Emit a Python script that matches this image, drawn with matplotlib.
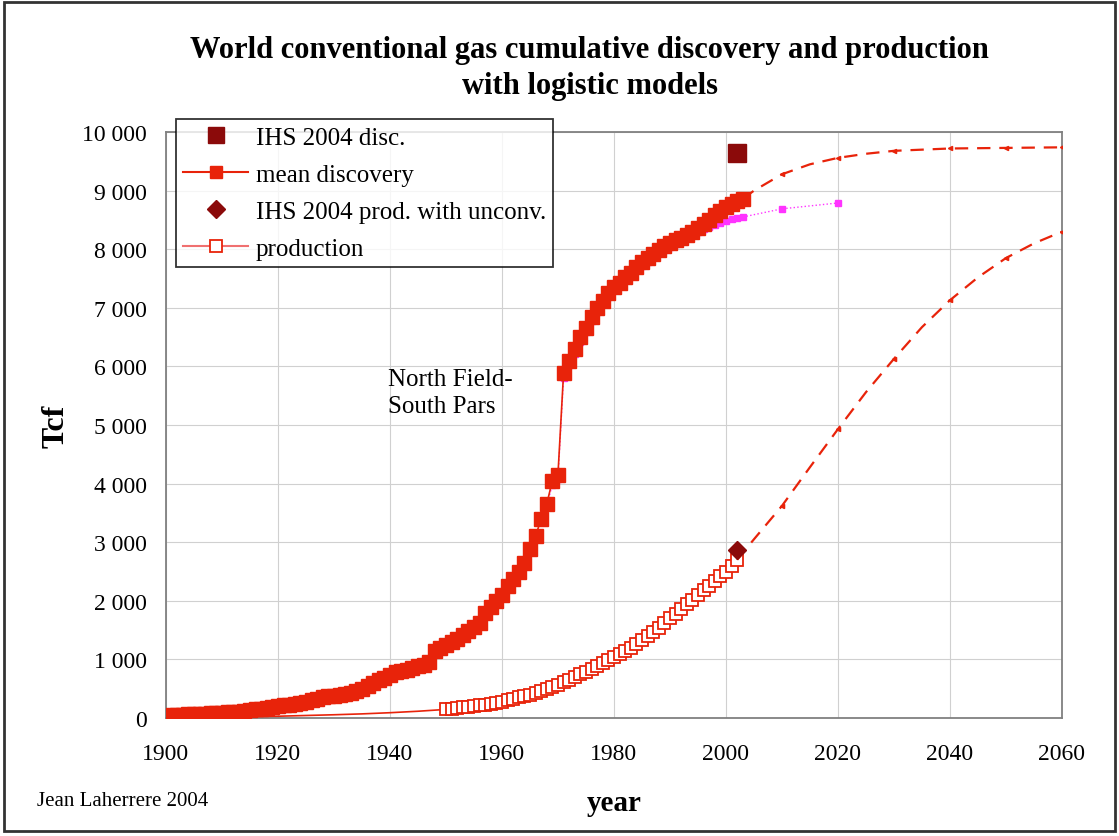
'''
world conventional gas: cumulative discovery and production, logistic models
'''
import numpy as np
import matplotlib.pyplot as plt
from matplotlib.patches import Rectangle
from matplotlib.ticker import FuncFormatter

# mean discovery, yearly 1900-2003 (Tcf)
disc_years = list(range(1900, 2004))
disc_vals = [40, 45, 50, 55, 60, 65, 70, 75, 80, 85,
             90, 95, 100, 110, 120, 130, 145, 160, 175, 190,
             205, 215, 230, 245, 260, 275, 300, 330, 350, 370,
             380, 395, 410, 430, 460, 500, 550, 600, 640, 690,
             740, 780, 800, 820, 850, 880, 910, 950, 1150, 1200,
             1250, 1300, 1350, 1420, 1480, 1550, 1620, 1800, 1900, 2000,
             2100, 2250, 2380, 2500, 2650, 2880, 3100, 3400, 3650, 4050,
             4150, 5880, 6100, 6300, 6500, 6650, 6850, 7000, 7120, 7250,
             7350, 7430, 7520, 7600, 7700, 7780, 7850, 7920, 7990, 8050,
             8100, 8150, 8200, 8250, 8300, 8370, 8430, 8500, 8580, 8650,
             8720, 8780, 8820, 8860]

# second discovery estimate (magenta), yearly 1900-2003 then 2010, 2020
mag_years = list(range(1900, 2004)) + [2010, 2020]
mag_vals = [30, 35, 40, 45, 50, 55, 60, 65, 70, 75,
            80, 85, 90, 95, 105, 115, 125, 140, 150, 165,
            180, 190, 200, 215, 230, 245, 265, 290, 310, 330,
            345, 360, 375, 395, 420, 460, 500, 550, 590, 640,
            690, 730, 760, 780, 810, 840, 870, 910, 1100, 1160,
            1210, 1260, 1310, 1380, 1440, 1510, 1590, 1760, 1870, 1980,
            2080, 2230, 2360, 2490, 2640, 2860, 3080, 3370, 3620, 3980,
            4080, 5800, 6020, 6220, 6420, 6580, 6780, 6930, 7060, 7190,
            7300, 7380, 7470, 7550, 7640, 7720, 7790, 7860, 7930, 7990,
            8040, 8090, 8140, 8190, 8240, 8290, 8340, 8380, 8420, 8450,
            8480, 8510, 8530, 8550, 8690, 8790]

# logistic model for discovery
disc_mod_years = [2003, 2005, 2010, 2015, 2020, 2025, 2030, 2040, 2050, 2060]
disc_mod_vals = [8860, 9000, 9280, 9450, 9560, 9630, 9680, 9720, 9730, 9740]

# production: early years (line only) and 1950-2002 (open squares)
prod_early_years = [1900, 1910, 1920, 1930, 1935, 1940, 1945, 1949]
prod_early_vals = [10, 15, 30, 55, 70, 90, 115, 140]
prod_years = list(range(1950, 2003))
prod_vals = [150, 160, 170, 180, 190, 200, 215, 230, 245, 260,
             280, 300, 325, 350, 375, 400, 430, 460, 495, 530,
             565, 610, 655, 700, 745, 790, 835, 880, 930, 985,
             1040, 1090, 1140, 1200, 1260, 1330, 1400, 1470, 1540, 1620,
             1700, 1780, 1860, 1940, 2020, 2100, 2180, 2260, 2340, 2420,
             2500, 2600, 2700]

# logistic model for production
prod_mod_years = [2002, 2005, 2010, 2015, 2020, 2025, 2030, 2035, 2040, 2045, 2050, 2055, 2060]
prod_mod_vals = [2700, 3050, 3620, 4280, 4930, 5560, 6130, 6670, 7130, 7520, 7850, 8100, 8300]

# IHS 2004 single points
ihs_disc_year, ihs_disc_val = [2002], [9650]
ihs_prod_year, ihs_prod_val = [2002], [2870]

RED = '#e8230a'
DARK = '#8b0a0a'
MAG = '#ff33ff'
PINK = '#f07070'

plt.rcParams['font.family'] = ['Liberation Serif', 'DejaVu Serif']

fig = plt.figure(figsize=(11.19, 8.37), dpi=100)
ax = fig.add_axes([0.1483, 0.141, 0.8007, 0.700])

# magenta estimate
ax.plot(mag_years, mag_vals, color=MAG, ls=':', lw=1.0, marker='s', ms=4,
        mec=MAG, mfc=MAG, zorder=2)

# production
ax.plot(prod_early_years + prod_years, prod_early_vals + prod_vals,
        color=RED, lw=1.2, zorder=3)
ax.plot(prod_years, prod_vals, color=RED, lw=1.0, ls='none', marker='s', ms=8,
        mec=RED, mfc='white', mew=1.3, zorder=3)
ax.plot(prod_mod_years, prod_mod_vals, color=RED, ls=(0, (6, 4)), lw=1.6,
        marker='<', ms=3, markevery=[2, 4, 6, 8, 10, 12], zorder=3)

# discovery
ax.plot(disc_years, disc_vals, color=RED, lw=1.2, marker='s', ms=10,
        mec=RED, mfc=RED, zorder=4)
ax.plot(disc_mod_years, disc_mod_vals, color=RED, ls=(0, (6, 4)), lw=1.6,
        marker='<', ms=3, markevery=[2, 4, 6, 7, 8, 9], zorder=3)

ax.plot(ihs_disc_year, ihs_disc_val, ls='none', marker='s', ms=13,
        color=DARK, zorder=5)
ax.plot(ihs_prod_year, ihs_prod_val, ls='none', marker='D', ms=9,
        color=DARK, zorder=5)

ax.set_xlim(1900, 2060)
ax.set_ylim(0, 10000)
ax.set_xticks(range(1900, 2061, 20))
ax.set_yticks(range(0, 10001, 1000))
ax.yaxis.set_major_formatter(FuncFormatter(lambda v, p: f'{int(v):,}'.replace(',', ' ')))
ax.tick_params(length=0, labelsize=17)
ax.tick_params(axis='x', pad=18)
ax.tick_params(axis='y', pad=14)
ax.grid(True, color='#d0d0d0', lw=0.8)
ax.set_axisbelow(True)
for s in ax.spines.values():
    s.set_color('#808080')
    s.set_linewidth(1.3)

ax.set_xlabel('year', fontsize=21, fontweight='bold', labelpad=18)
ax.set_ylabel('Tcf', fontsize=23, fontweight='bold', labelpad=8)

ax.text(1939.6, 5980, 'North Field-\nSouth Pars', fontsize=18, va='top',
        linespacing=1.3)

fig.text(0.527, 0.918, 'World conventional gas cumulative discovery and production\nwith logistic models',
         ha='center', va='center', fontsize=22, fontweight='bold', linespacing=1.35)
fig.text(0.033, 0.043, 'Jean Laherrere 2004', fontsize=15, va='center')

# legend entries
h1, = ax.plot([], [], ls='none', marker='s', ms=11, color=DARK)
h2, = ax.plot([], [], color=RED, lw=1.5, marker='s', ms=8)
h3, = ax.plot([], [], ls='none', marker='D', ms=9, color=DARK)
h4, = ax.plot([], [], color=PINK, lw=1.5, marker='s', ms=8, mfc='white', mec=RED, mew=1.3)
leg = fig.legend([h1, h2, h3, h4],
                 ['IHS 2004 disc.', 'mean discovery', 'IHS 2004 prod. with unconv.', 'production'],
                 loc='upper left', bbox_to_anchor=(0.157, 0.857), fontsize=18,
                 frameon=True, fancybox=False, edgecolor='black', handlelength=2.6,
                 handletextpad=0.3, borderpad=0.3, labelspacing=0.58, borderaxespad=0)
leg.get_frame().set_linewidth(1.3)

fig.patches.append(Rectangle((0.004, 0.006), 0.992, 0.99, transform=fig.transFigure,
                             fill=False, ec='#333333', lw=2))

fig.savefig('out.png', dpi=100)
